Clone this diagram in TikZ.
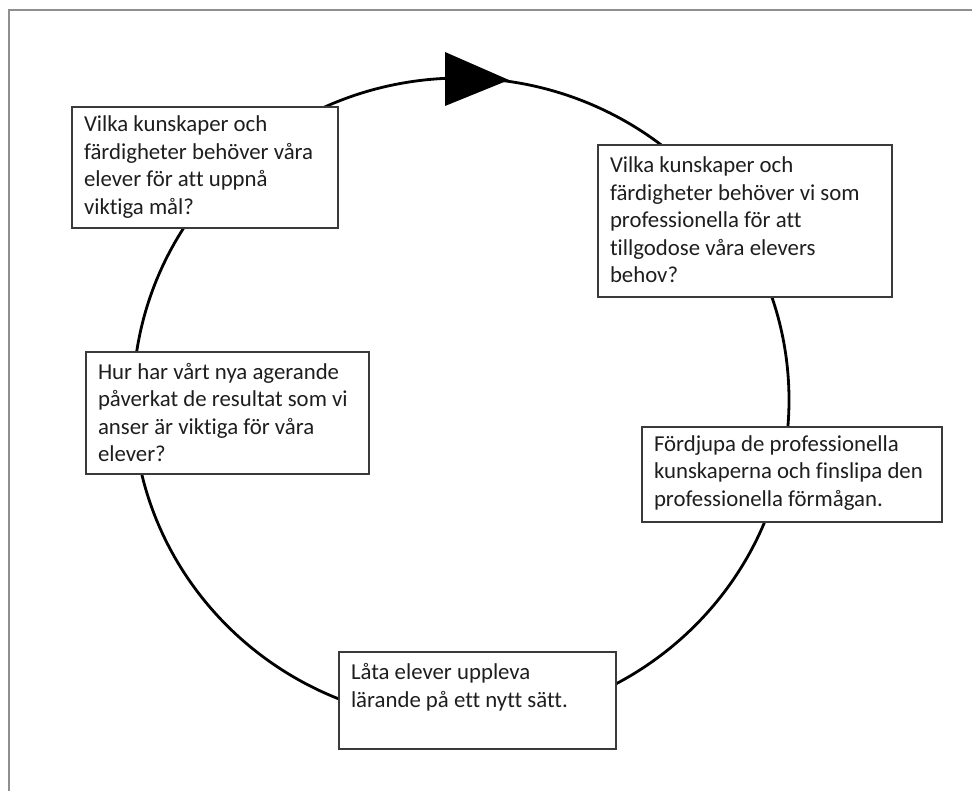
\documentclass[tikz,border=0pt]{standalone}
\usepackage{fontspec}
\setmainfont[Ligatures=NoCommon]{Carlito}
\newcommand{\cyctext}[4]{\parbox[t][#2][t]{#1}{\raggedright\vspace*{#3}\strut #4}}
\definecolor{framegray}{HTML}{8F8F8F}
\definecolor{boxgray}{HTML}{3A3A3A}
\definecolor{textc}{HTML}{1E1E1E}
\begin{document}
\begin{tikzpicture}[x=1pt,y=-1pt,
  cyclebox/.style={draw=boxgray, line width=1.6pt, fill=white, inner xsep=12pt, inner ysep=0pt,
    outer sep=0pt, anchor=north west, text=textc, font=\fontsize{22.8}{27.5}\selectfont},
  ring/.style={line width=2.8pt, black},
  frameline/.style={draw=framegray, line width=2.5pt}]
\useasboundingbox (0,0) rectangle (972,791);
% outer frame
\coordinate (fa) at (9,791);
\coordinate (fb) at (9,10);
\coordinate (fc) at (972,10);
\draw[frameline] (fa) -- (fb) -- (fc);
% cycle
\coordinate (c) at (461,400);
\draw[ring] (c) ellipse [x radius=328, y radius=322];
\coordinate (a1) at (445,52);
\coordinate (a2) at (445,106);
\coordinate (a3) at (509,80);
\fill[black] (a1) -- (a3) -- (a2) -- cycle;
% boxes
\node[cyclebox] (b1) at (72,107) {\cyctext{242pt}{121pt}{5.5pt}{Vilka kunskaper och\\färdigheter behöver våra\\elever för att uppnå\\viktiga mål?}};
\node[cyclebox] (b2) at (598,145) {\cyctext{270pt}{152pt}{8.5pt}{Vilka kunskaper och\\färdigheter behöver vi som\\professionella för att\\tillgodose våra elevers\\behov?}};
\node[cyclebox] (b3) at (86,352) {\cyctext{259pt}{122pt}{8pt}{Hur har vårt nya agerande\\påverkat de resultat som vi\\anser är viktiga för våra\\elever?}};
\node[cyclebox] (b4) at (642,427) {\cyctext{276pt}{95pt}{5.2pt}{Fördjupa de professionella\\kunskaperna och finslipa den\\professionella förmågan.}};
\node[cyclebox] (b5) at (339,652) {\cyctext{253pt}{97pt}{8.5pt}{Låta elever uppleva\\lärande på ett nytt sätt.}};
\end{tikzpicture}
\end{document}
